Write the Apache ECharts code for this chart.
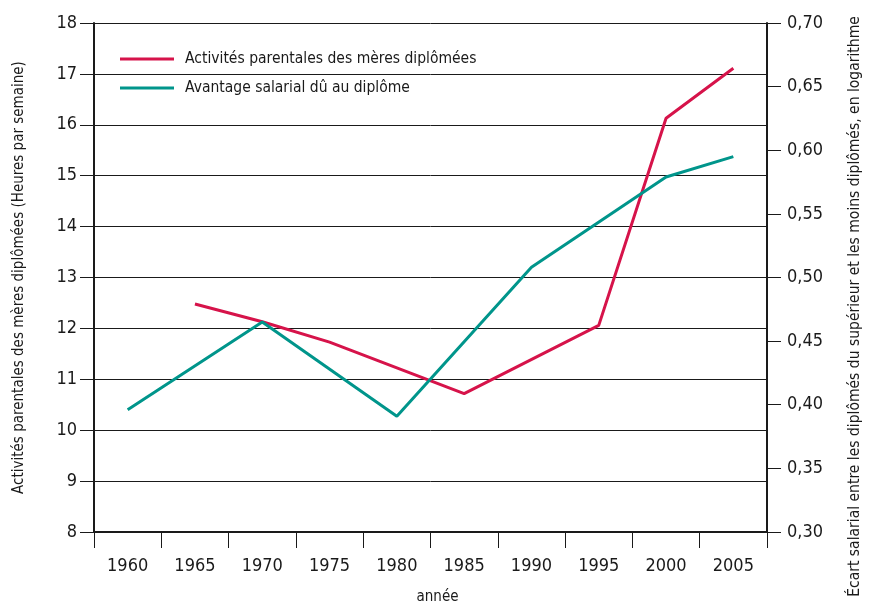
<!DOCTYPE html>
<html>
<head>
<meta charset="utf-8">
<script src="https://cdn.jsdelivr.net/npm/echarts@6/dist/echarts.min.js"></script>
<style>html,body{margin:0;padding:0;background:#fff}#c{width:869px;height:605px}</style>
</head>
<body>
<div id="c"></div>
<script>
var years = ['1960','1965','1970','1975','1980','1985','1990','1995','2000','2005'];
var activitesMeres = [null, 12.48, 12.13, 11.73, null, 10.72, null, 12.06, 16.13, 17.11];
var avantageSalarial = [0.396, null, 0.465, null, 0.391, null, 0.508, null, 0.579, 0.595];
var leftTicks = {min: 8, max: 18, interval: 1};
var rightTicks = {min: 0.30, max: 0.70, interval: 0.05};
var seriesNames = ['Activités parentales des mères diplômées', 'Avantage salarial dû au diplôme'];

var FONT = '"DejaVu Sans Condensed", "Liberation Sans Narrow", sans-serif';
var RED = '#d6134a', TEAL = '#00958b', INK = '#1a1a1a';

var chart = echarts.init(document.getElementById('c'), null, {renderer: 'canvas'});
chart.setOption({
  animation: false,
  backgroundColor: '#fff',
  textStyle: {fontFamily: FONT, color: INK},
  grid: {left: 94, right: 102, top: 23, bottom: 73, containLabel: false, outerBoundsMode: 'none'},
  legend: {
    orient: 'vertical', left: 115, top: 46,
    itemWidth: 54, itemHeight: 3, itemGap: 13,
    icon: 'rect',
    textStyle: {fontFamily: FONT, fontSize: 15.5, color: INK, padding: [0, 0, 0, 6]},
    data: seriesNames
  },
  xAxis: {
    type: 'category', data: years, boundaryGap: true,
    name: 'année', nameLocation: 'middle', nameGap: 58,
    nameTextStyle: {fontFamily: FONT, fontSize: 15, color: INK, padding: [0, 0, 0, 14]},
    axisLine: {lineStyle: {color: INK, width: 2}},
    axisTick: {show: true, length: 16, lineStyle: {color: INK, width: 1}, alignWithLabel: false},
    axisLabel: {fontFamily: FONT, fontSize: 18, color: INK, margin: 25},
    splitLine: {show: false}
  },
  yAxis: [{
    type: 'value', position: 'left',
    min: leftTicks.min, max: leftTicks.max, interval: leftTicks.interval,
    name: 'Activités parentales des mères diplômées (Heures par semaine)',
    nameLocation: 'middle', nameRotate: 90, nameGap: 67,
    nameTextStyle: {fontFamily: FONT, fontSize: 15, color: INK},
    axisLine: {show: true, lineStyle: {color: INK, width: 2}},
    axisTick: {show: true, length: 14, lineStyle: {color: INK, width: 1}},
    axisLabel: {fontFamily: FONT, fontSize: 18, color: INK, margin: 17},
    splitLine: {show: true, lineStyle: {color: INK, width: 1}}
  }, {
    type: 'value', position: 'right',
    min: rightTicks.min, max: rightTicks.max, interval: rightTicks.interval,
    name: 'Écart salarial entre les diplômés du supérieur et les moins diplômés, en logarithme',
    nameLocation: 'middle', nameRotate: 90, nameGap: 80,
    nameTextStyle: {fontFamily: FONT, fontSize: 15.5, color: INK, padding: [0, 58, 0, 0]},
    axisLine: {show: true, lineStyle: {color: INK, width: 2}},
    axisTick: {show: true, length: 14, lineStyle: {color: INK, width: 1}},
    axisLabel: {fontFamily: FONT, fontSize: 18, color: INK, margin: 20,
      formatter: function (v) { return v.toFixed(2).replace('.', ','); }},
    splitLine: {show: false}
  }],
  series: [{
    name: seriesNames[0], type: 'line', yAxisIndex: 0,
    data: activitesMeres, connectNulls: true,
    showSymbol: false, symbol: 'none',
    lineStyle: {color: RED, width: 3}, itemStyle: {color: RED}
  }, {
    name: seriesNames[1], type: 'line', yAxisIndex: 1,
    data: avantageSalarial, connectNulls: true,
    showSymbol: false, symbol: 'none',
    lineStyle: {color: TEAL, width: 3}, itemStyle: {color: TEAL}
  }]
});
</script>
</body>
</html>
